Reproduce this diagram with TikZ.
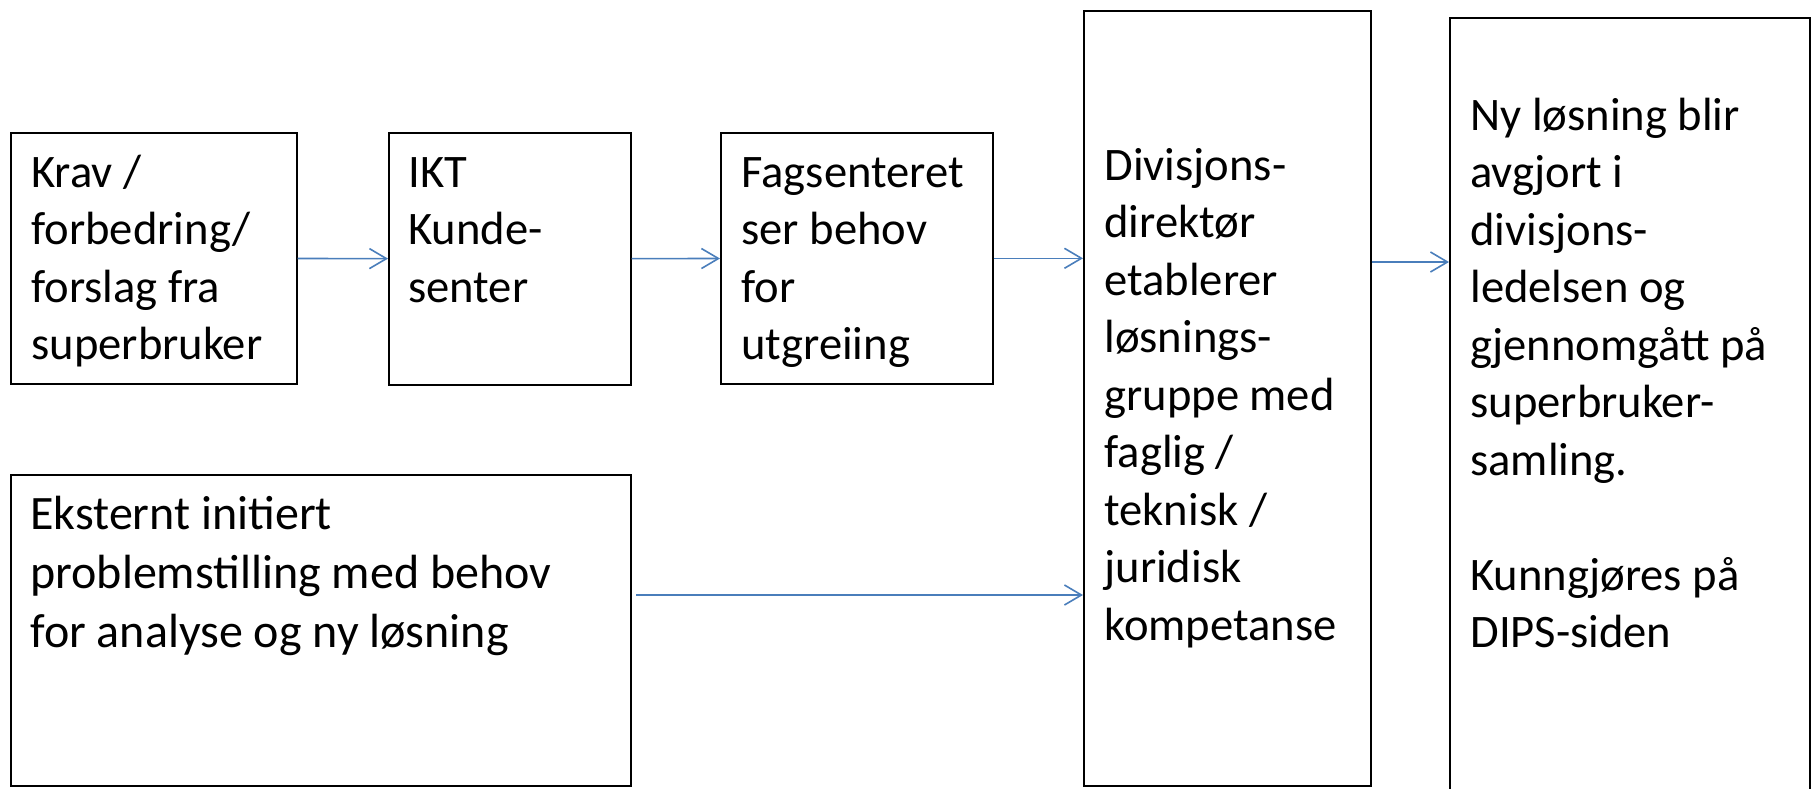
\documentclass[tikz,border=0pt]{standalone}
\usepackage{fontspec}
\setmainfont{Carlito}
\usetikzlibrary{arrows.meta}

\definecolor{flowblue}{RGB}{74,126,187}

\tikzset{
  proc/.style={draw, line width=0.8pt, rectangle, anchor=north west, inner sep=0pt},
  proctext/.style={anchor=base west, align=left, inner sep=0pt,
    font=\fontsize{23.3}{28.75}\selectfont},
  flow/.style={draw=flowblue, line width=0.8pt,
    -{Straight Barb[length=8.5pt, width=10pt]}}
}

\begin{document}
\begin{tikzpicture}[x=0.5pt, y=-0.5pt]

\useasboundingbox (0,0) rectangle (1816,788);

% boxes
\node[proc, minimum width=143pt, minimum height=125.5pt] (krav) at (10,132) {};
\node[proc, minimum width=121pt, minimum height=126pt] (ikt) at (388,132) {};
\node[proc, minimum width=136pt, minimum height=125.5pt] (fag) at (720,132) {};
\node[proc, minimum width=310pt, minimum height=155.5pt] (ekstern) at (10,474) {};
\node[proc, minimum width=143.5pt, minimum height=387.5pt] (div) at (1083,10) {};
\node[proc, minimum width=180pt, minimum height=400pt] (ny) at (1449,17) {};

% texts (base = baseline of the last line)
\node[proctext] (kravtxt) at (31,359.5) {Krav /\\forbedring/\\forslag fra\\superbruker};
\node[proctext] (ikttxt) at (408,302) {IKT\\Kunde-\\senter};
\node[proctext] (fagtxt) at (741,359.5) {Fagsenteret\\ser behov\\for\\utgreiing};
\node[proctext, font=\fontsize{24}{29.5}\selectfont] (eksterntxt) at (30,647) {Eksternt initiert\\problemstilling med behov\\for analyse og ny løsning};
\node[proctext] (divtxt) at (1104,640) {Divisjons-\\direktør\\etablerer\\løsnings-\\gruppe med\\faglig /\\teknisk /\\juridisk\\kompetanse};
\node[proctext] (nytxt) at (1470,647.5) {Ny løsning blir\\avgjort i\\divisjons-\\ledelsen og\\gjennomgått på\\superbruker-\\samling.\\[28.75pt]Kunngjøres på\\DIPS-siden};

% arrows
\coordinate (ekstut) at (636,595);
\draw[flow] (krav) -- (ikt);
\draw[flow] (ikt) -- (fag);
\draw[flow] (fag.east) -- (fag.east -| div.west);
\draw[flow] (ekstut) -- (ekstut -| div.west);
\draw[flow] (div.east |- 0,262) -- (ny.west |- 0,262);

\end{tikzpicture}
\end{document}
